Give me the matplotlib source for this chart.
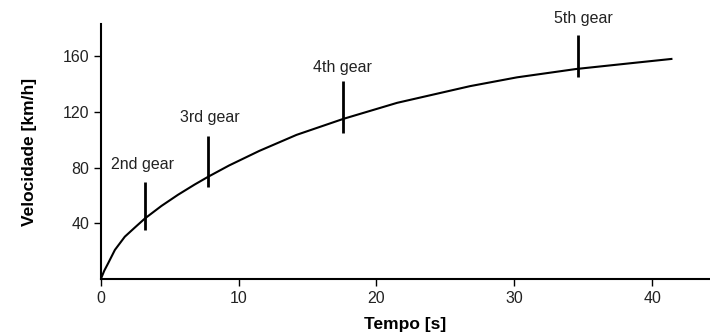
import matplotlib
matplotlib.use("Agg")
import matplotlib.pyplot as plt

plt.rcParams['font.family'] = ['Liberation Sans', 'DejaVu Sans']

# curva velocidade x tempo
tempo = [0, 0.25, 0.53, 1.02, 1.74, 2.47, 3.2, 4.4, 5.6, 6.8, 7.8, 9.3,
         11.5, 14.2, 17.6, 21.5, 26.8, 30.2, 34.5, 38.7, 41.4]
velocidade = [0, 6, 11.3, 20.9, 30.4, 37, 43.5, 52.5, 60.5, 67.8, 73.5, 81.5,
              92, 103.5, 115, 126.5, 138.5, 144.8, 150.8, 155.2, 158]

# trocas de marcha
marchas = ["2nd gear", "3rd gear", "4th gear", "5th gear"]
marcha_t = [3.2, 7.8, 17.55, 34.6]
marcha_vmin = [35, 66, 105, 145]
marcha_vmax = [70, 103, 142, 175]
rotulo_t = [3.0, 7.9, 17.5, 35.0]
rotulo_v = [82, 116, 152, 187]

fig = plt.figure(figsize=(7.1, 3.35), dpi=100)
ax = fig.add_axes([0.142, 0.167, 0.858, 0.761])

ax.plot(tempo, velocidade, color="black", lw=1.5)
ax.vlines(marcha_t, marcha_vmin, marcha_vmax, color="black", lw=2)
for nome, t, v in zip(marchas, rotulo_t, rotulo_v):
    ax.text(t, v, nome, ha="center", va="center", fontsize=11.5,
            color="#222222", clip_on=False)

ax.set_xlim(0, 44.2)
ax.set_ylim(0, 183)
ax.set_xticks([0, 10, 20, 30, 40])
ax.set_yticks([40, 80, 120, 160])
ax.tick_params(labelsize=11.5, length=5, width=1, labelcolor="#222222")
for s in ["top", "right"]:
    ax.spines[s].set_visible(False)
for s in ["left", "bottom"]:
    ax.spines[s].set_linewidth(1.5)

ax.set_xlabel("Tempo [s]", fontsize=12.5, fontweight="bold", labelpad=8)
ax.set_ylabel("Velocidade [km/h]", fontsize=12.5, fontweight="bold", labelpad=18)

fig.savefig("out.png", dpi=100)
